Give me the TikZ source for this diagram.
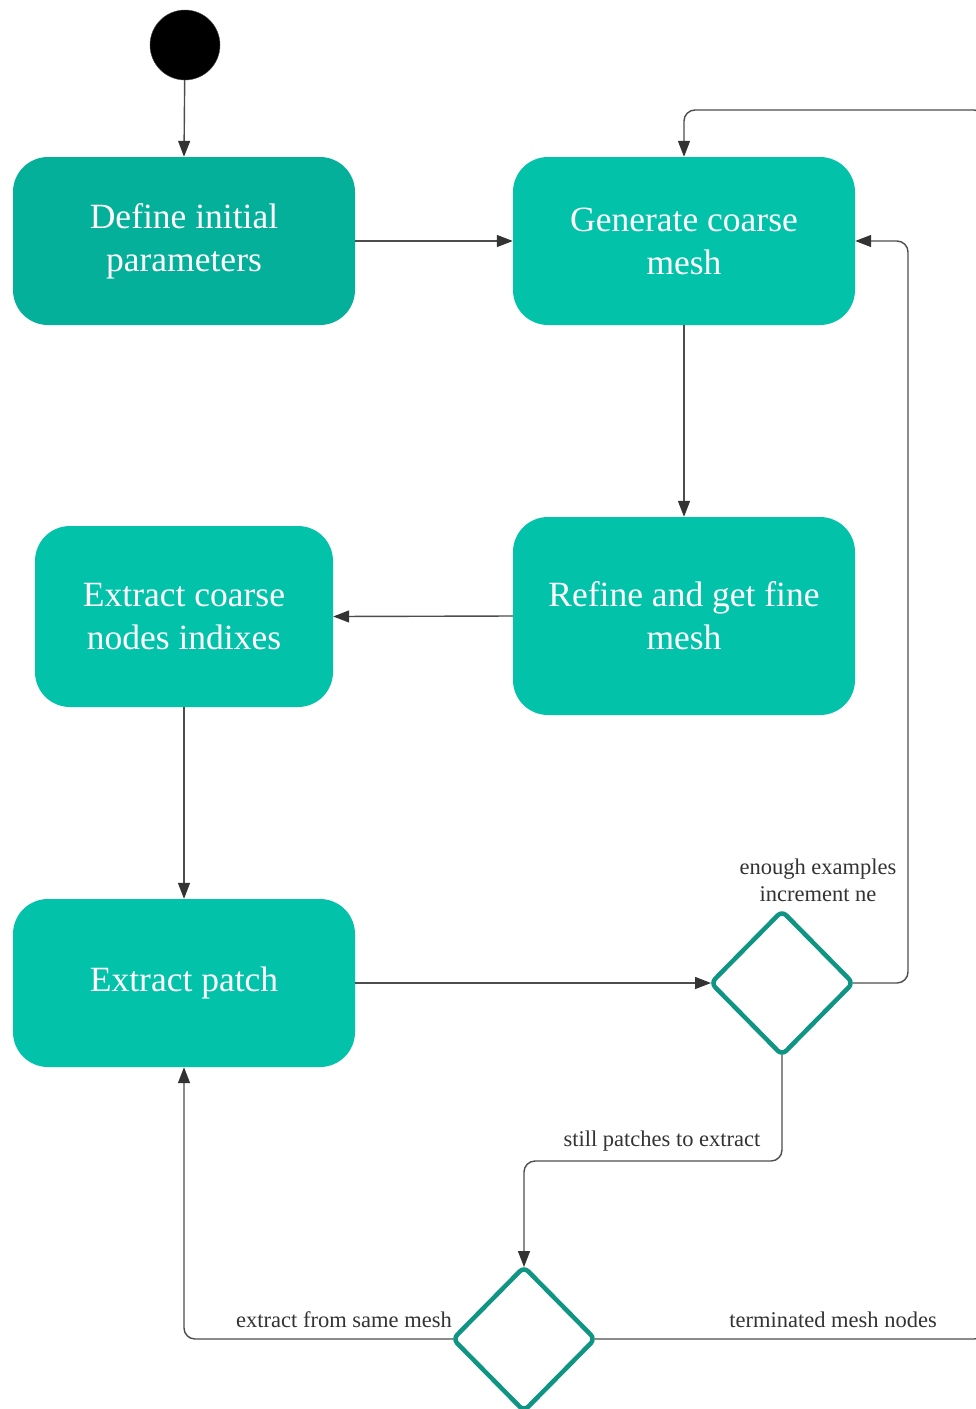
\documentclass[tikz,border=0pt]{standalone}
\usepackage{fontspec}
\setmainfont{Liberation Serif}
\usetikzlibrary{arrows.meta,shapes.geometric}
\definecolor{tealdark}{HTML}{04B099}
\definecolor{teal}{HTML}{02C2AA}
\definecolor{tealline}{HTML}{0E9583}
\definecolor{wire}{HTML}{4D4D4D}
\definecolor{labelgray}{HTML}{333333}
\tikzset{
  state/.style={rectangle, rounded corners=35pt, fill=teal, text=white,
    align=center, inner sep=0pt, font=\fontsize{35.5}{43}\selectfont},
  choice/.style={diamond, draw=tealline, line width=4.5pt, fill=white,
    rounded corners=6pt, inner sep=0pt, outer sep=0pt,
    minimum width=142pt, minimum height=144pt},
  conn/.style={draw=wire, line width=1.4pt, rounded corners=11pt,
    -{Triangle[length=16pt,width=12pt,color=labelgray]}},
  guard/.style={text=labelgray, align=center, inner sep=0pt,
    font=\fontsize{22.5}{27}\selectfont},
}
\begin{document}
\begin{tikzpicture}[x=1pt,y=-1pt]
\useasboundingbox[fill=white] (0,0) rectangle (976,1409);

% initial state
\node (start) [circle, fill=black, draw=black!70, minimum size=70pt, inner sep=0pt] at (185,45) {};

% activity boxes
\node (b1) [state, fill=tealdark, minimum width=342pt, minimum height=168pt] at (184,241) {Define initial\\parameters};
\node (b2) [state, minimum width=342pt, minimum height=168pt] at (684,241) {Generate coarse\\mesh};
\node (b3) [state, minimum width=342pt, minimum height=198pt] at (684,616) {Refine and get fine\\mesh};
\node (b4) [state, minimum width=298pt, minimum height=181pt] at (184,616.5) {Extract coarse\\nodes indixes};
\node (b5) [state, minimum width=342pt, minimum height=168pt] at (184,983) {Extract patch};

% decisions
\node (d1) [choice] at (782,983) {};
\node (d2) [choice] at (524,1339) {};

% point beyond the right margin used by the outer loop
\coordinate (far) at (985,110);

% connectors
\draw[conn] (start) -- (b1.north);
\draw[conn] (b1.east) -- (b2.west);
\draw[conn] (b2.south) -- (b3.north);
\draw[conn] (b3.west) -- (b4.east);
\draw[conn] (b4.south) -- (b5.north);
\draw[conn] (b5.east) -- (d1.west);
\draw[conn] (d1.east) -- ++(55,0) |- (b2.east);
\draw[conn] (d1.south) -- ++(0,106) -| (d2.north);
\draw[conn] (d2.west) -| (b5.south);
\draw[conn] (d2.east) -| (far) -| (b2.north);

% guard labels
\node (g1) [guard] at (818,880) {enough examples\\increment ne};
\node (g2) [guard] at (662,1141) {still patches to extract};
\node (g3) [guard] at (344,1320) {extract from same mesh};
\node (g4) [guard] at (833,1320) {terminated mesh nodes};
\end{tikzpicture}
\end{document}
